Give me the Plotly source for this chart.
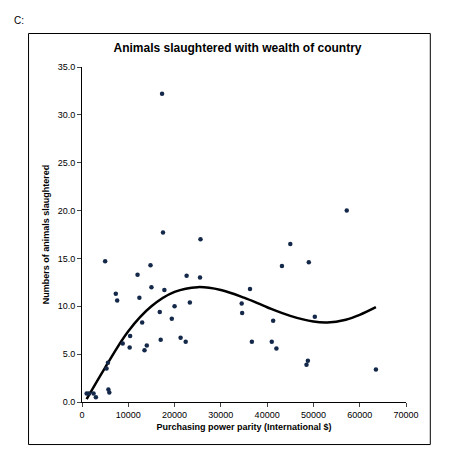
import plotly.graph_objects as go

# scatter data: purchasing power parity vs animals slaughtered
ppp = [1000, 1500, 2500, 3000, 5000, 5300, 5600, 5700, 5900, 7300, 7600, 8800,
       10300, 10400, 12000, 12400, 13000, 13500, 14000, 14800, 15000, 16800,
       17000, 17300, 17500, 17800, 19400, 20000, 21300, 22400, 22600, 23300,
       25500, 25600, 34500, 34600, 36300, 36700, 41000, 41300, 42000, 43200,
       45000, 48500, 48800, 49000, 50300, 57200, 63500]
animals = [0.9, 0.9, 0.9, 0.5, 14.7, 3.5, 4.1, 1.3, 1.0, 11.3, 10.6, 6.1,
           5.7, 6.9, 13.3, 10.9, 8.3, 5.4, 5.9, 14.3, 12.0, 9.4,
           6.5, 32.2, 17.7, 11.7, 8.7, 10.0, 6.7, 6.3, 13.2, 10.4,
           13.0, 17.0, 10.3, 9.3, 11.8, 6.3, 6.3, 8.5, 5.6, 14.2,
           16.5, 3.9, 4.3, 14.6, 8.9, 20.0, 3.4]

# trend line
trend_x = [1000, 5000, 10000, 15000, 20000, 25000, 30000, 35000, 40000,
           45000, 50000, 53000, 57000, 60000, 63500]
trend_y = [0.3, 3.6, 7.4, 10.0, 11.5, 12.0, 11.7, 10.9, 9.9,
           9.0, 8.4, 8.3, 8.6, 9.1, 9.9]

fig = go.Figure()
fig.add_trace(go.Scatter(x=trend_x, y=trend_y, mode="lines",
                         line=dict(color="black", width=2.5, shape="spline")))
fig.add_trace(go.Scatter(x=ppp, y=animals, mode="markers",
                         marker=dict(color="#14284a", size=4.5)))

axis_font = dict(family="Arial", size=9, color="black")
fig.update_layout(
    width=459, height=472, showlegend=False,
    paper_bgcolor="white", plot_bgcolor="white",
    margin=dict(l=74, r=61, t=59, b=78),
    font=dict(family="Arial", color="black"),
    title=dict(text="<b>Animals slaughtered with wealth of country</b>",
               x=0.5, xanchor="center", y=0.915, yanchor="middle",
               font=dict(size=12, family="Arial")),
    annotations=[dict(text="C:", xref="paper", yref="paper", x=-0.215, y=1.16,
                      xanchor="left", yanchor="top", showarrow=False,
                      font=dict(size=10, family="Arial"))],
    shapes=[dict(type="rect", xref="paper", yref="paper", x0=-0.165, x1=1.075,
                 y0=-0.127, y1=1.1, line=dict(color="black", width=1))],
)
fig.update_xaxes(range=[0, 70000], tick0=0, dtick=10000, tickformat="d",
                 showgrid=False, showline=True, linecolor="black",
                 ticks="outside", ticklen=4, tickfont=axis_font, zeroline=False,
                 title=dict(text="<b>Purchasing power parity (International $)</b>",
                            font=dict(size=9, family="Arial"), standoff=4))
fig.update_yaxes(range=[0, 35], dtick=5, tickformat=".1f", showgrid=False,
                 showline=True, linecolor="black", ticks="outside", ticklen=4,
                 tickfont=axis_font, zeroline=False,
                 title=dict(text="<b>Numbers of animals slaughtered</b>",
                            font=dict(size=9, family="Arial"), standoff=6))

fig.write_html("out.html")
